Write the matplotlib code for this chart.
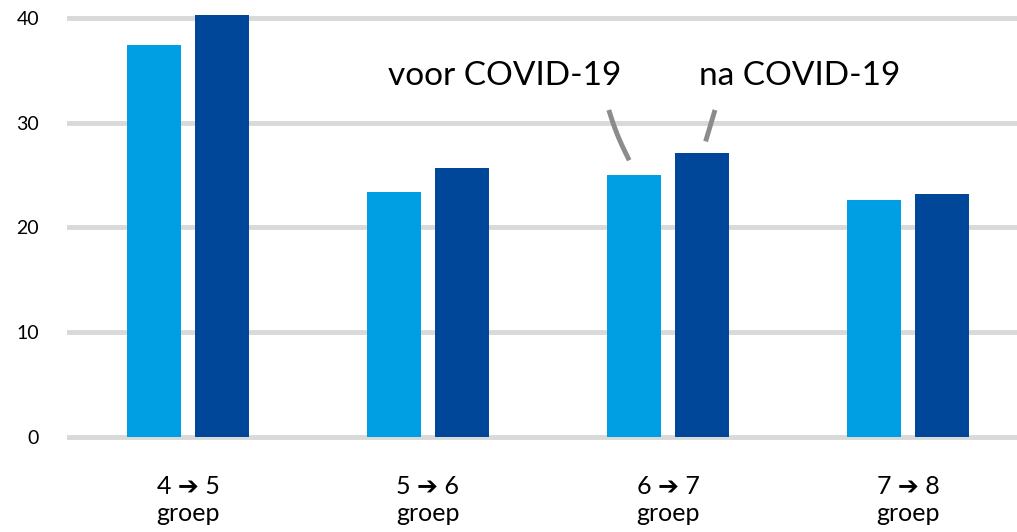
import numpy as np
import matplotlib
matplotlib.use('Agg')
import matplotlib.pyplot as plt

# data
groepen = ['4 \u2794 5\ngroep', '5 \u2794 6\ngroep', '6 \u2794 7\ngroep', '7 \u2794 8\ngroep']
voor_covid = [37.4, 23.4, 25.0, 22.6]
na_covid = [40.3, 25.7, 27.1, 23.2]
yticks = [0, 10, 20, 30, 40]

plt.rcParams['font.family'] = ['Lato', 'DejaVu Sans']

W, H = 1017, 532
fig = plt.figure(figsize=(W / 100, H / 100), dpi=100)
ax = fig.add_axes([67 / W, (H - 442) / H, 1 - 67 / W, 442 / H])

x = np.arange(len(groepen))
bw = 0.225
off = 0.1417
licht = '#009fe3'
donker = '#00479a'
ax.bar(x - off, voor_covid, bw, color=licht, zorder=3)
ax.bar(x + off, na_covid, bw, color=donker, zorder=3)

ax.set_xlim(-0.504, 3.454)
ax.set_ylim(-0.5, 41.7)
ax.set_yticks(yticks)
ax.set_yticklabels([str(t) for t in yticks], fontsize=14)
ax.set_xticks(x)
ax.set_xticklabels(groepen, fontsize=18, linespacing=1.2)
ax.tick_params(axis='y', length=0, pad=20)
ax.tick_params(axis='x', length=0, pad=24)
ax.grid(axis='y', color='#d9d9d9', linewidth=3.5, zorder=0)
for s in ax.spines.values():
    s.set_visible(False)

# annotaties bij groep 6 -> 7
i = 2
ax.text(i - 0.68, 33.6, 'voor COVID-19', fontsize=24, ha='center', va='baseline')
ax.text(i + 0.55, 33.6, 'na COVID-19', fontsize=24, ha='center', va='baseline')
t = np.linspace(0, 1, 20)
x0, y0 = i - off - 0.105, 31.2
x1, y1 = i - off - 0.02, voor_covid[i] + 1.4
ax.plot(x0 + (x1 - x0) * t - 0.006 * np.sin(np.pi * t), y0 + (y1 - y0) * t,
        color='#8c8c8c', linewidth=3.5, solid_capstyle='butt', zorder=4)
x0, y0 = i + off + 0.054, 31.2
x1, y1 = i + off + 0.015, na_covid[i] + 1.1
ax.plot([x0, x1], [y0, y1], color='#8c8c8c', linewidth=3.5,
        solid_capstyle='butt', zorder=4)

fig.savefig('out.png', dpi=100)
